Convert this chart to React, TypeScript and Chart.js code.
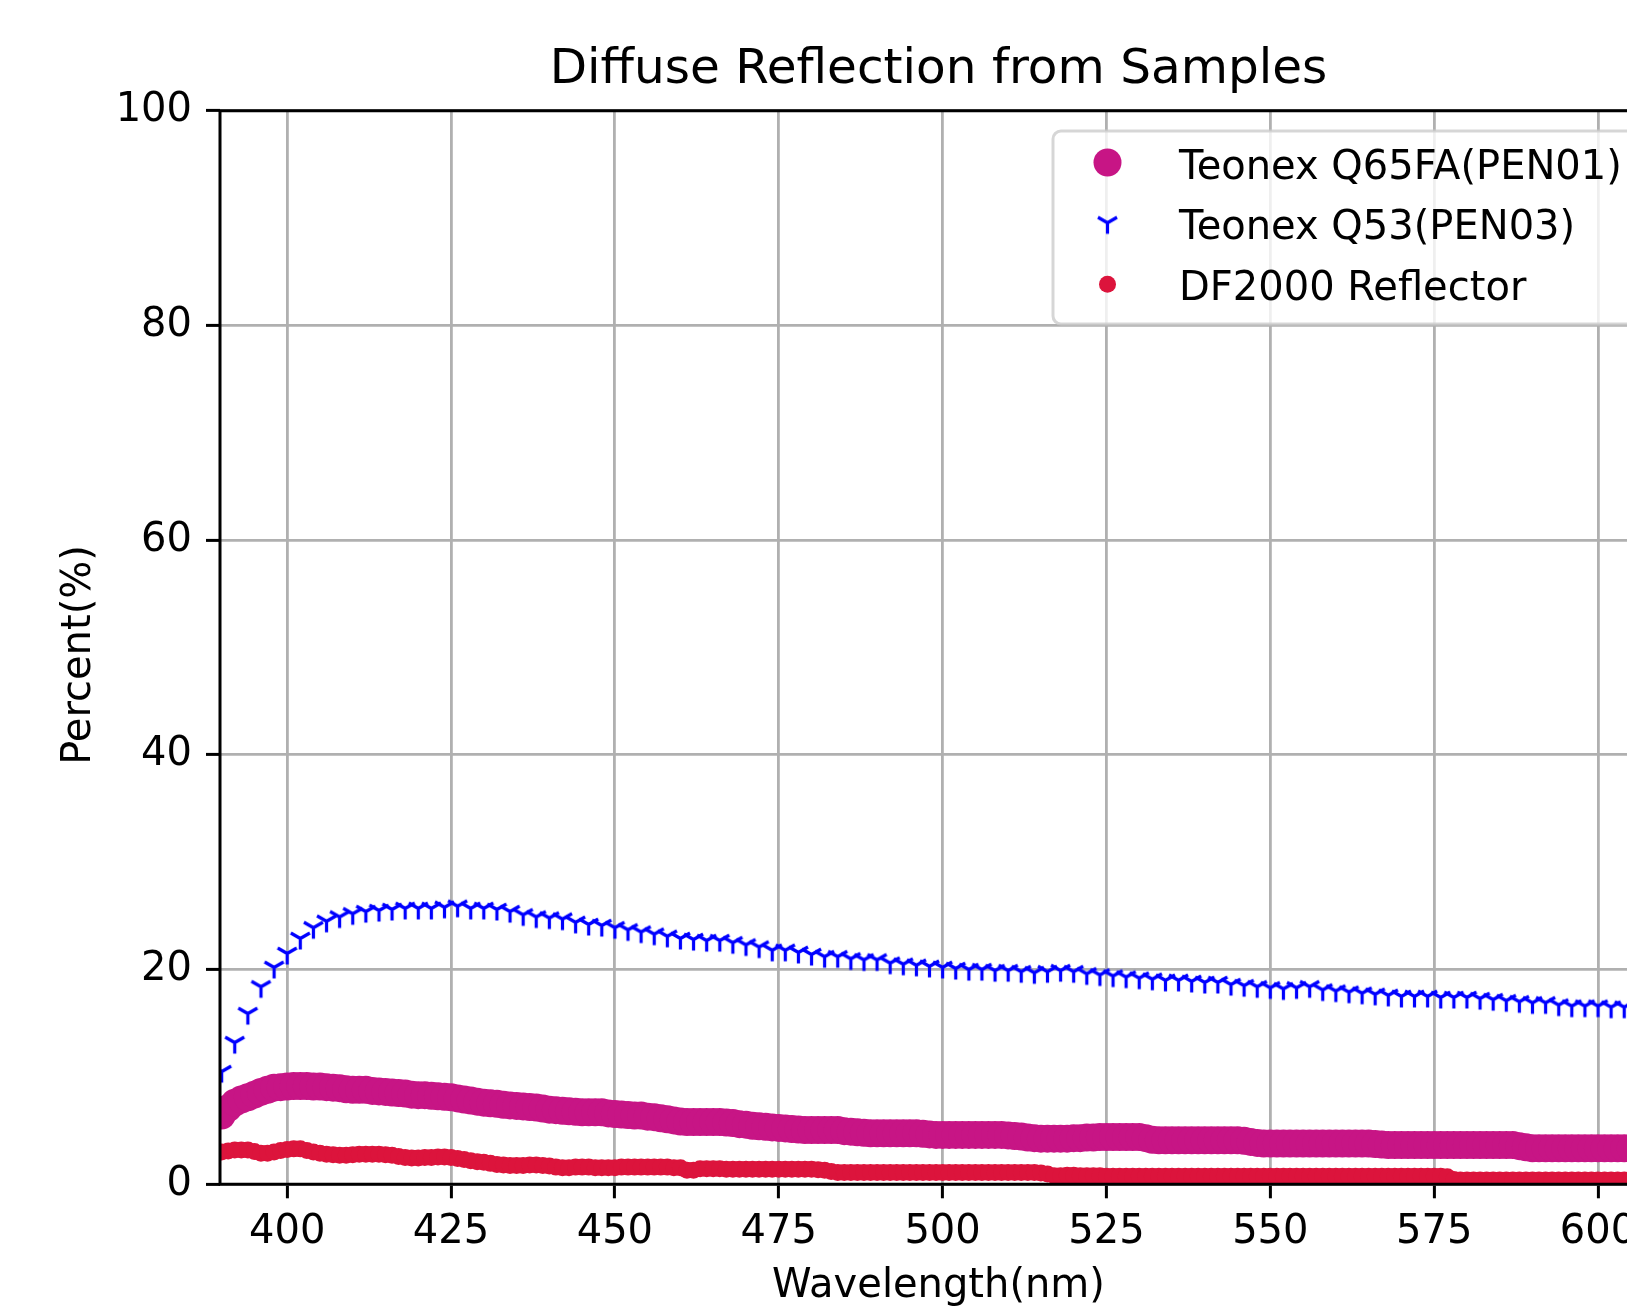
import React, { useEffect, useRef } from 'react';
import { Chart, registerables } from 'chart.js';

Chart.register(...registerables);

// ---------------- data ----------------
// fine wavelength grid (nm) used by the two circle-marker series
const wavelengthsFine = [
  390, 391, 392, 393, 394, 395, 396, 397, 398, 399,
  400, 401, 402, 403, 404, 405, 406, 407, 408, 409,
  410, 411, 412, 413, 414, 415, 416, 417, 418, 419,
  420, 421, 422, 423, 424, 425, 426, 427, 428, 429,
  430, 431, 432, 433, 434, 435, 436, 437, 438, 439,
  440, 441, 442, 443, 444, 445, 446, 447, 448, 449,
  450, 451, 452, 453, 454, 455, 456, 457, 458, 459,
  460, 461, 462, 463, 464, 465, 466, 467, 468, 469,
  470, 471, 472, 473, 474, 475, 476, 477, 478, 479,
  480, 481, 482, 483, 484, 485, 486, 487, 488, 489,
  490, 491, 492, 493, 494, 495, 496, 497, 498, 499,
  500, 501, 502, 503, 504, 505, 506, 507, 508, 509,
  510, 511, 512, 513, 514, 515, 516, 517, 518, 519,
  520, 521, 522, 523, 524, 525, 526, 527, 528, 529,
  530, 531, 532, 533, 534, 535, 536, 537, 538, 539,
  540, 541, 542, 543, 544, 545, 546, 547, 548, 549,
  550, 551, 552, 553, 554, 555, 556, 557, 558, 559,
  560, 561, 562, 563, 564, 565, 566, 567, 568, 569,
  570, 571, 572, 573, 574, 575, 576, 577, 578, 579,
  580, 581, 582, 583, 584, 585, 586, 587, 588, 589,
  590, 591, 592, 593, 594, 595, 596, 597, 598, 599,
  600, 601, 602, 603, 604, 605, 606, 607, 608, 609,
];

// Teonex Q65FA (PEN01), percent, on wavelengthsFine
const pen01Q65FA = [
  6.4, 7.1, 7.6, 7.9, 8.1, 8.35, 8.6, 8.8, 9.0, 9.05,
  9.1, 9.15, 9.15, 9.15, 9.1, 9.1, 9.05, 9.0, 8.95, 8.85,
  8.8, 8.8, 8.8, 8.7, 8.65, 8.6, 8.55, 8.5, 8.45, 8.35,
  8.3, 8.3, 8.25, 8.2, 8.15, 8.1, 8.0, 7.9, 7.8, 7.7,
  7.6, 7.55, 7.5, 7.4, 7.35, 7.3, 7.25, 7.2, 7.15, 7.05,
  6.95, 6.9, 6.85, 6.8, 6.75, 6.7, 6.7, 6.7, 6.7, 6.6,
  6.55, 6.5, 6.45, 6.4, 6.4, 6.3, 6.25, 6.15, 6.05, 5.95,
  5.85, 5.8, 5.8, 5.8, 5.8, 5.8, 5.8, 5.75, 5.7, 5.6,
  5.55, 5.45, 5.4, 5.35, 5.3, 5.25, 5.2, 5.15, 5.1, 5.05,
  5.05, 5.05, 5.05, 5.05, 5.05, 4.95, 4.9, 4.85, 4.8, 4.75,
  4.75, 4.75, 4.75, 4.75, 4.75, 4.75, 4.75, 4.7, 4.65, 4.6,
  4.6, 4.6, 4.6, 4.6, 4.6, 4.6, 4.6, 4.6, 4.6, 4.6,
  4.55, 4.5, 4.45, 4.35, 4.3, 4.25, 4.25, 4.25, 4.25, 4.25,
  4.3, 4.3, 4.35, 4.35, 4.4, 4.4, 4.4, 4.4, 4.4, 4.4,
  4.4, 4.3, 4.15, 4.1, 4.1, 4.1, 4.1, 4.1, 4.1, 4.1,
  4.1, 4.1, 4.1, 4.1, 4.1, 4.1, 4.05, 3.95, 3.85, 3.8,
  3.8, 3.8, 3.8, 3.8, 3.8, 3.8, 3.8, 3.8, 3.8, 3.8,
  3.8, 3.8, 3.8, 3.8, 3.8, 3.8, 3.75, 3.7, 3.65, 3.65,
  3.65, 3.65, 3.65, 3.65, 3.65, 3.65, 3.65, 3.65, 3.65, 3.65,
  3.65, 3.65, 3.65, 3.65, 3.65, 3.65, 3.65, 3.65, 3.55, 3.45,
  3.35, 3.35, 3.35, 3.35, 3.35, 3.35, 3.35, 3.35, 3.35, 3.35,
  3.35, 3.35, 3.35, 3.35, 3.35, 3.35, 3.35, 3.35, 3.35, 3.35,
];

// DF2000 Reflector, percent, on wavelengthsFine
const df2000Reflector = [
  3.0, 3.1, 3.2, 3.2, 3.2, 3.05, 2.9, 2.9, 3.0, 3.15,
  3.25, 3.3, 3.3, 3.15, 3.0, 2.9, 2.8, 2.75, 2.7, 2.7,
  2.75, 2.8, 2.8, 2.8, 2.8, 2.75, 2.7, 2.6, 2.5, 2.45,
  2.45, 2.5, 2.5, 2.55, 2.55, 2.5, 2.4, 2.3, 2.2, 2.1,
  2.05, 1.95, 1.85, 1.8, 1.75, 1.75, 1.75, 1.8, 1.8, 1.75,
  1.7, 1.6, 1.55, 1.55, 1.6, 1.6, 1.6, 1.55, 1.55, 1.55,
  1.55, 1.6, 1.6, 1.6, 1.6, 1.6, 1.6, 1.6, 1.6, 1.55,
  1.55, 1.3, 1.3, 1.45, 1.45, 1.45, 1.45, 1.4, 1.4, 1.4,
  1.4, 1.4, 1.4, 1.4, 1.4, 1.4, 1.4, 1.4, 1.4, 1.4,
  1.4, 1.35, 1.3, 1.2, 1.1, 1.1, 1.1, 1.1, 1.1, 1.1,
  1.1, 1.1, 1.1, 1.1, 1.1, 1.1, 1.1, 1.1, 1.1, 1.1,
  1.1, 1.1, 1.1, 1.1, 1.1, 1.1, 1.1, 1.1, 1.1, 1.1,
  1.1, 1.1, 1.1, 1.1, 1.1, 1.05, 0.95, 0.8, 0.8, 0.85,
  0.85, 0.8, 0.8, 0.8, 0.8, 0.75, 0.75, 0.75, 0.75, 0.75,
  0.75, 0.75, 0.75, 0.75, 0.75, 0.75, 0.75, 0.75, 0.75, 0.75,
  0.75, 0.75, 0.75, 0.75, 0.75, 0.75, 0.75, 0.75, 0.75, 0.75,
  0.75, 0.75, 0.75, 0.75, 0.75, 0.75, 0.75, 0.75, 0.75, 0.75,
  0.75, 0.75, 0.75, 0.75, 0.75, 0.75, 0.75, 0.75, 0.75, 0.75,
  0.75, 0.75, 0.75, 0.75, 0.75, 0.75, 0.75, 0.7, 0.45, 0.4,
  0.4, 0.4, 0.4, 0.4, 0.4, 0.4, 0.4, 0.4, 0.4, 0.4,
  0.4, 0.4, 0.4, 0.4, 0.4, 0.4, 0.4, 0.4, 0.4, 0.4,
  0.4, 0.4, 0.4, 0.4, 0.4, 0.4, 0.4, 0.4, 0.4, 0.4,
];

// coarser grid (nm) for the tri-marker series
const wavelengthsCoarse = [
  390, 392, 394, 396, 398, 400, 402, 404, 406, 408,
  410, 412, 414, 416, 418, 420, 422, 424, 426, 428,
  430, 432, 434, 436, 438, 440, 442, 444, 446, 448,
  450, 452, 454, 456, 458, 460, 462, 464, 466, 468,
  470, 472, 474, 476, 478, 480, 482, 484, 486, 488,
  490, 492, 494, 496, 498, 500, 502, 504, 506, 508,
  510, 512, 514, 516, 518, 520, 522, 524, 526, 528,
  530, 532, 534, 536, 538, 540, 542, 544, 546, 548,
  550, 552, 554, 556, 558, 560, 562, 564, 566, 568,
  570, 572, 574, 576, 578, 580, 582, 584, 586, 588,
  590, 592, 594, 596, 598, 600, 602, 604, 606, 608,
];

// Teonex Q53 (PEN03), percent, on wavelengthsCoarse
const pen03Q53 = [
  10.5, 13.2, 15.9, 18.4, 20.2, 21.5, 22.9, 23.9, 24.5, 24.9,
  25.2, 25.4, 25.5, 25.6, 25.7, 25.7, 25.7, 25.8, 25.9, 25.7,
  25.7, 25.6, 25.4, 25.1, 24.9, 24.8, 24.7, 24.4, 24.2, 24.1,
  23.9, 23.7, 23.5, 23.3, 23.1, 22.9, 22.8, 22.7, 22.7, 22.5,
  22.3, 22.1, 21.8, 21.8, 21.6, 21.4, 21.2, 21.2, 21.0, 20.9,
  20.9, 20.6, 20.5, 20.4, 20.3, 20.2, 20.1, 20.0, 20.0, 19.9,
  19.9, 19.8, 19.7, 19.8, 19.9, 19.8, 19.6, 19.5, 19.4, 19.3,
  19.2, 19.1, 19.0, 19.0, 18.9, 18.8, 18.8, 18.6, 18.5, 18.4,
  18.3, 18.2, 18.3, 18.4, 18.1, 18.0, 17.9, 17.8, 17.7, 17.6,
  17.5, 17.5, 17.5, 17.4, 17.4, 17.4, 17.3, 17.2, 17.1, 17.0,
  16.9, 16.9, 16.7, 16.6, 16.6, 16.6, 16.5, 16.5, 16.4, 16.4,
];

const seriesLabels = ['Teonex Q65FA(PEN01)', 'Teonex Q53(PEN03)', 'DF2000 Reflector'];
const chartTitle = 'Diffuse Reflection from Samples';
const xAxisTitle = 'Wavelength(nm)';
const yAxisTitle = 'Percent(%)';

const xMin = 389.75;
const xMax = 609;
const xStep = 25;
const yMin = 0;
const yMax = 100;
const yStep = 20;

// ---------------- styles ----------------
const FONT = '"DejaVu Sans", "Liberation Sans", sans-serif';
const MAGENTA = '#C71585';
const BLUE = '#0000FF';
const CRIMSON = '#DC143C';

function makeTriDown(r: number, lw: number, color: string): HTMLCanvasElement {
  const size = Math.ceil(2 * (r + lw)) + 2;
  const c = document.createElement('canvas');
  c.width = size;
  c.height = size;
  const g = c.getContext('2d')!;
  const cx = size / 2;
  const cy = size / 2;
  g.strokeStyle = color;
  g.lineWidth = lw;
  g.lineCap = 'butt';
  g.lineJoin = 'miter';
  g.beginPath();
  g.moveTo(cx, cy);
  g.lineTo(cx, cy + r);
  g.moveTo(cx, cy);
  g.lineTo(cx - 0.866 * r, cy - 0.5 * r);
  g.moveTo(cx, cy);
  g.lineTo(cx + 0.866 * r, cy - 0.5 * r);
  g.stroke();
  return c;
}

export default function App() {
  const canvasRef = useRef<HTMLCanvasElement | null>(null);

  useEffect(() => {
    const canvas = canvasRef.current;
    if (!canvas) return;
    const tri = makeTriDown(11, 3.2, BLUE);

    const toPts = (xs: number[], ys: number[]) => xs.map((x, i) => ({ x, y: ys[i] }));

    const decor = {
      id: 'decor',
      beforeDraw(chart: any) {
        const { ctx, width, height } = chart;
        ctx.save();
        ctx.fillStyle = '#ffffff';
        ctx.fillRect(0, 0, width, height);
        ctx.restore();
      },
      afterDatasetsDraw(chart: any) {
        const { ctx, chartArea: a } = chart;
        ctx.save();
        // spines
        ctx.strokeStyle = '#000';
        ctx.lineWidth = 3;
        ctx.lineCap = 'square';
        ctx.beginPath();
        ctx.moveTo(a.left, a.bottom);
        ctx.lineTo(a.left, a.top);
        ctx.lineTo(a.right, a.top);
        ctx.moveTo(a.left, a.bottom);
        ctx.lineTo(a.right, a.bottom);
        ctx.stroke();

        // legend box
        const lx = 1053;
        const ly = 131;
        const lw = 700;
        const lh = 193;
        ctx.beginPath();
        (ctx as any).roundRect(lx, ly, lw, lh, 8);
        ctx.fillStyle = 'rgba(255,255,255,0.8)';
        ctx.fill();
        ctx.strokeStyle = 'rgba(204,204,204,0.8)';
        ctx.lineWidth = 3;
        ctx.stroke();

        const mx = 1107.5;
        ctx.fillStyle = MAGENTA;
        ctx.beginPath();
        ctx.arc(mx, 162.5, 14, 0, Math.PI * 2);
        ctx.fill();
        ctx.drawImage(tri, mx - tri.width / 2, 222.8 - tri.height / 2);
        ctx.fillStyle = CRIMSON;
        ctx.beginPath();
        ctx.arc(mx, 284.3, 8.5, 0, Math.PI * 2);
        ctx.fill();

        ctx.fillStyle = '#000';
        ctx.font = `40px ${FONT}`;
        ctx.textAlign = 'left';
        ctx.textBaseline = 'alphabetic';
        ctx.fillText(seriesLabels[0], 1179, 179.2);
        ctx.fillText(seriesLabels[1], 1179, 239.4);
        ctx.fillText(seriesLabels[2], 1179, 299.6);

        // titles
        const cx = (a.left + a.right) / 2;
        ctx.textAlign = 'center';
        ctx.font = `48.5px ${FONT}`;
        ctx.fillText(chartTitle, cx, 83);
        ctx.font = `40px ${FONT}`;
        ctx.fillText(xAxisTitle, cx, 1297);
        ctx.save();
        ctx.translate(90, 655);
        ctx.rotate(-Math.PI / 2);
        ctx.fillText(yAxisTitle, 0, 0);
        ctx.restore();
        ctx.restore();
      },
    };

    const tickFont = { family: FONT, size: 40 };

    const chart = new Chart(canvas, {
      type: 'scatter',
      data: {
        datasets: [
          {
            label: seriesLabels[0],
            data: toPts(wavelengthsFine, pen01Q65FA),
            showLine: false,
            pointStyle: 'circle',
            pointRadius: 14,
            pointBorderWidth: 0,
            pointBackgroundColor: MAGENTA,
            pointBorderColor: MAGENTA,
            clip: 0,
          },
          {
            label: seriesLabels[1],
            data: toPts(wavelengthsCoarse, pen03Q53),
            showLine: false,
            pointStyle: tri,
            pointRadius: 10,
            pointBorderWidth: 0,
            pointBackgroundColor: BLUE,
            pointBorderColor: BLUE,
            clip: 0,
          },
          {
            label: seriesLabels[2],
            data: toPts(wavelengthsFine, df2000Reflector),
            showLine: false,
            pointStyle: 'circle',
            pointRadius: 8.5,
            pointBorderWidth: 0,
            pointBackgroundColor: CRIMSON,
            pointBorderColor: CRIMSON,
            clip: 0,
          },
        ],
      },
      options: {
        responsive: false,
        maintainAspectRatio: false,
        animation: false,
        devicePixelRatio: 1,
        events: [],
        layout: { padding: { top: 110.7, right: 5, left: 0, bottom: 0 } },
        plugins: {
          legend: { display: false },
          title: { display: false },
          tooltip: { enabled: false },
        },
        scales: {
          x: {
            type: 'linear',
            position: 'bottom',
            min: xMin,
            max: xMax,
            ticks: {
              stepSize: xStep,
              includeBounds: false,
              font: tickFont,
              color: '#000',
              padding: 10,
              maxRotation: 0,
              autoSkip: false,
            },
            grid: {
              color: '#b0b0b0',
              lineWidth: 2.8,
              tickColor: '#000',
              tickWidth: 3,
              tickLength: 14,
              drawTicks: true,
            },
            border: { display: false },
            afterFit: (s: any) => {
              s.height = 1306 - 1184.3;
            },
          },
          y: {
            type: 'linear',
            min: yMin,
            max: yMax,
            ticks: {
              stepSize: yStep,
              font: tickFont,
              color: '#000',
              padding: 14,
            },
            grid: {
              color: '#b0b0b0',
              lineWidth: 2.8,
              tickColor: '#000',
              tickWidth: 3,
              tickLength: 14,
              drawTicks: true,
            },
            border: { display: false },
            afterFit: (s: any) => {
              s.width = 220;
            },
          },
        },
      } as any,
      plugins: [decor],
    });

    return () => {
      chart.destroy();
    };
  }, []);

  return (
    <div
      style={{
        position: 'fixed',
        left: 0,
        top: 0,
        width: 1627,
        height: 1306,
        overflow: 'hidden',
        background: '#fff',
      }}
    >
      <canvas ref={canvasRef} width={1671} height={1306} style={{ display: 'block' }} />
    </div>
  );
}
